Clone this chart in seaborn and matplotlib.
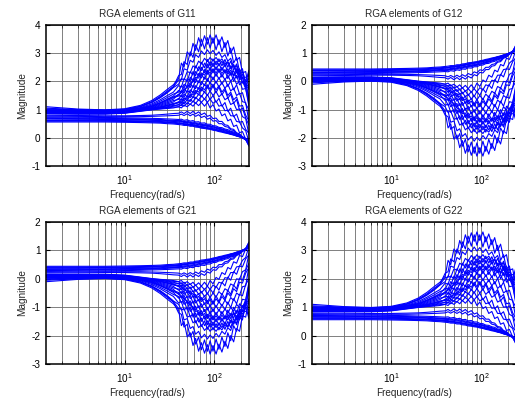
import numpy as np
import pandas as pd
import matplotlib
matplotlib.use("Agg")
import matplotlib.pyplot as plt
from matplotlib.ticker import LogLocator, NullFormatter
import seaborn as sns

# Frequency points (rad/s) at which the RGA element lambda_11 was evaluated
freq = [1.35, 3, 6, 10, 15, 20, 25, 30, 35,
        40, 43, 46, 50, 54, 58, 62, 67, 72, 78, 84, 90, 97, 105, 113,
        122, 132, 142, 153, 165, 178, 192, 207, 225, 245]

# lambda_11 for the operating points whose RGA rises near 100 rad/s
rga11_rising = [
    [1.10, 1.02, 0.99, 1.03, 1.15, 1.32, 1.52, 1.72, 1.88,
     2.10, 2.65, 2.50, 3.05, 2.90, 3.35, 3.10, 3.55, 3.25, 3.62, 3.32, 3.65, 3.35, 3.65, 3.30,
     3.58, 3.20, 3.45, 3.00, 3.22, 2.75, 2.85, 2.30, 2.35, 1.70],
    [1.05, 1.00, 0.98, 1.01, 1.12, 1.28, 1.47, 1.66, 1.82,
     2.20, 2.25, 2.70, 2.60, 3.05, 2.85, 3.30, 3.05, 3.50, 3.15, 3.55, 3.18, 3.55, 3.12, 3.48,
     3.05, 3.38, 2.90, 3.18, 2.65, 2.85, 2.35, 2.45, 1.85, 1.75],
    [1.02, 0.99, 0.98, 1.00, 1.11, 1.26, 1.44, 1.62, 1.80,
     2.05, 2.05, 2.45, 2.40, 2.75, 2.68, 2.95, 2.85, 3.08, 2.95, 3.12, 2.98, 3.10, 2.92, 3.05,
     2.85, 2.95, 2.72, 2.82, 2.50, 2.55, 2.15, 2.15, 1.75, 1.20],
    [1.00, 0.98, 0.97, 1.00, 1.10, 1.25, 1.42, 1.60, 1.78,
     1.90, 2.10, 2.05, 2.35, 2.30, 2.55, 2.48, 2.72, 2.62, 2.82, 2.70, 2.85, 2.72, 2.85, 2.70,
     2.80, 2.62, 2.70, 2.50, 2.58, 2.30, 2.35, 1.95, 1.95, 1.40],
    [0.98, 0.97, 0.96, 0.99, 1.07, 1.20, 1.35, 1.50, 1.62,
     1.85, 1.80, 2.10, 2.00, 2.35, 2.22, 2.55, 2.38, 2.68, 2.48, 2.78, 2.55, 2.80, 2.58, 2.80,
     2.55, 2.78, 2.50, 2.72, 2.40, 2.62, 2.25, 2.35, 2.00, 2.10],
    [0.96, 0.95, 0.95, 0.98, 1.05, 1.16, 1.30, 1.43, 1.55,
     1.62, 1.85, 1.75, 2.10, 2.00, 2.35, 2.20, 2.52, 2.38, 2.65, 2.48, 2.70, 2.52, 2.72, 2.55,
     2.72, 2.52, 2.68, 2.45, 2.60, 2.35, 2.45, 2.10, 2.15, 2.20],
    [0.95, 0.94, 0.94, 0.97, 1.04, 1.12, 1.24, 1.35, 1.45,
     1.52, 1.60, 1.72, 1.78, 1.95, 1.98, 2.15, 2.12, 2.30, 2.22, 2.40, 2.28, 2.45, 2.30, 2.45,
     2.28, 2.42, 2.25, 2.40, 2.18, 2.35, 2.10, 2.25, 2.00, 2.40],
    [0.95, 0.94, 0.94, 0.97, 1.04, 1.13, 1.25, 1.37, 1.48,
     1.68, 1.62, 1.90, 1.80, 2.15, 2.00, 2.35, 2.18, 2.50, 2.30, 2.62, 2.38, 2.66, 2.40, 2.65,
     2.38, 2.62, 2.30, 2.55, 2.20, 2.45, 2.05, 2.15, 1.80, 1.90],
    [0.94, 0.93, 0.93, 0.96, 1.03, 1.11, 1.22, 1.32, 1.42,
     1.48, 1.68, 1.58, 1.88, 1.78, 2.10, 1.96, 2.28, 2.12, 2.42, 2.25, 2.50, 2.30, 2.52, 2.32,
     2.50, 2.30, 2.45, 2.22, 2.38, 2.12, 2.25, 1.95, 2.00, 1.30],
    [0.93, 0.92, 0.92, 0.95, 1.02, 1.09, 1.19, 1.28, 1.37,
     1.55, 1.45, 1.72, 1.62, 1.92, 1.78, 2.10, 1.95, 2.25, 2.08, 2.36, 2.15, 2.42, 2.18, 2.40,
     2.15, 2.38, 2.10, 2.32, 2.00, 2.22, 1.88, 2.00, 1.75, 2.30],
    [0.92, 0.91, 0.91, 0.94, 1.01, 1.07, 1.16, 1.24, 1.32,
     1.36, 1.52, 1.43, 1.68, 1.58, 1.86, 1.74, 2.02, 1.88, 2.16, 2.00, 2.25, 2.05, 2.28, 2.08,
     2.25, 2.05, 2.22, 2.00, 2.15, 1.90, 2.02, 1.72, 1.75, 1.10],
    [0.91, 0.90, 0.90, 0.93, 1.00, 1.05, 1.13, 1.20, 1.27,
     1.40, 1.35, 1.55, 1.45, 1.70, 1.60, 1.85, 1.72, 2.00, 1.85, 2.10, 1.92, 2.16, 1.94, 2.14,
     1.90, 2.10, 1.82, 2.02, 1.70, 1.88, 1.55, 1.60, 1.20, 1.00],
    [0.90, 0.89, 0.89, 0.92, 0.99, 1.04, 1.10, 1.16, 1.22,
     1.25, 1.38, 1.30, 1.50, 1.42, 1.65, 1.55, 1.78, 1.66, 1.90, 1.76, 1.98, 1.80, 2.00, 1.80,
     1.96, 1.75, 1.90, 1.66, 1.76, 1.50, 1.58, 1.28, 1.25, 0.55],
    [0.89, 0.88, 0.88, 0.91, 0.98, 1.03, 1.09, 1.15, 1.20,
     1.24, 1.30, 1.40, 1.40, 1.55, 1.52, 1.68, 1.62, 1.80, 1.70, 1.88, 1.72, 1.90, 1.70, 1.85,
     1.62, 1.76, 1.50, 1.62, 1.35, 1.45, 1.12, 1.15, 0.80, 0.60],
    [0.89, 0.88, 0.88, 0.91, 0.98, 1.03, 1.08, 1.13, 1.18,
     1.28, 1.22, 1.40, 1.32, 1.52, 1.42, 1.64, 1.52, 1.74, 1.60, 1.82, 1.63, 1.84, 1.60, 1.80,
     1.52, 1.70, 1.40, 1.55, 1.22, 1.36, 0.98, 1.05, 0.70, 0.45],
    [0.88, 0.87, 0.87, 0.90, 0.97, 1.02, 1.06, 1.10, 1.15,
     1.16, 1.27, 1.20, 1.36, 1.29, 1.46, 1.38, 1.55, 1.45, 1.63, 1.50, 1.66, 1.50, 1.64, 1.45,
     1.56, 1.35, 1.42, 1.18, 1.24, 1.00, 1.02, 0.75, 0.68, 0.10],
    [0.87, 0.86, 0.86, 0.89, 0.96, 1.01, 1.05, 1.08, 1.12,
     1.18, 1.14, 1.28, 1.20, 1.36, 1.27, 1.44, 1.33, 1.50, 1.36, 1.54, 1.35, 1.50, 1.26, 1.40,
     1.12, 1.25, 0.94, 1.05, 0.75, 0.84, 0.55, 0.58, 0.30, 0.15],
    [0.86, 0.85, 0.85, 0.88, 0.95, 1.00, 1.03, 1.06, 1.09,
     1.10, 1.18, 1.12, 1.24, 1.18, 1.30, 1.22, 1.35, 1.26, 1.38, 1.26, 1.38, 1.22, 1.30, 1.12,
     1.16, 0.96, 0.98, 0.78, 0.78, 0.58, 0.56, 0.35, 0.25, -0.15],
    [0.85, 0.84, 0.84, 0.87, 0.94, 0.99, 1.02, 1.04, 1.06,
     1.10, 1.06, 1.16, 1.10, 1.20, 1.12, 1.24, 1.14, 1.26, 1.12, 1.26, 1.06, 1.18, 0.95, 1.02,
     0.78, 0.85, 0.60, 0.66, 0.40, 0.45, 0.18, 0.22, -0.05, -0.20],
]

# lambda_11 for the operating points whose RGA falls towards zero
rga11_falling = [
    [0.80, 0.79, 0.78, 0.78, 0.79, 0.80, 0.82, 0.84, 0.86,
     0.87, 0.92, 0.86, 0.94, 0.86, 0.94, 0.85, 0.92, 0.82, 0.88, 0.76, 0.80, 0.68, 0.70, 0.58,
     0.58, 0.46, 0.44, 0.32, 0.30, 0.18, 0.14, 0.04, -0.02, -0.15],
    [0.77, 0.76, 0.75, 0.75, 0.75, 0.76, 0.77, 0.78, 0.79,
     0.80, 0.84, 0.79, 0.85, 0.78, 0.84, 0.76, 0.82, 0.72, 0.77, 0.66, 0.70, 0.59, 0.61, 0.50,
     0.50, 0.40, 0.38, 0.28, 0.26, 0.15, 0.12, 0.02, -0.05, -0.20],
    [0.74, 0.73, 0.72, 0.71, 0.70, 0.69, 0.68, 0.67, 0.66,
     0.65, 0.66, 0.62, 0.64, 0.59, 0.61, 0.56, 0.57, 0.52, 0.53, 0.48, 0.48, 0.43, 0.42, 0.37,
     0.36, 0.31, 0.29, 0.23, 0.21, 0.14, 0.10, 0.02, -0.06, -0.28],
    [0.71, 0.70, 0.69, 0.68, 0.67, 0.66, 0.65, 0.63, 0.62,
     0.61, 0.61, 0.58, 0.59, 0.55, 0.56, 0.52, 0.52, 0.48, 0.48, 0.44, 0.43, 0.39, 0.38, 0.33,
     0.32, 0.27, 0.25, 0.20, 0.18, 0.11, 0.08, 0.00, -0.06, -0.22],
    [0.69, 0.68, 0.67, 0.66, 0.65, 0.64, 0.63, 0.61, 0.60,
     0.60, 0.58, 0.58, 0.55, 0.55, 0.52, 0.52, 0.48, 0.48, 0.44, 0.44, 0.40, 0.39, 0.35, 0.34,
     0.29, 0.28, 0.22, 0.21, 0.14, 0.12, 0.05, 0.02, -0.05, -0.25],
    [0.67, 0.66, 0.65, 0.64, 0.63, 0.62, 0.61, 0.59, 0.58,
     0.57, 0.57, 0.54, 0.54, 0.51, 0.51, 0.48, 0.47, 0.44, 0.43, 0.40, 0.39, 0.35, 0.34, 0.30,
     0.28, 0.24, 0.22, 0.17, 0.15, 0.09, 0.06, -0.01, -0.07, -0.30],
    [0.63, 0.63, 0.62, 0.61, 0.60, 0.59, 0.58, 0.56, 0.55,
     0.53, 0.53, 0.50, 0.50, 0.47, 0.47, 0.44, 0.43, 0.40, 0.39, 0.36, 0.35, 0.32, 0.30, 0.27,
     0.25, 0.21, 0.19, 0.15, 0.13, 0.08, 0.05, -0.01, -0.05, -0.18],
    [0.61, 0.61, 0.60, 0.59, 0.58, 0.57, 0.56, 0.55, 0.53,
     0.52, 0.51, 0.49, 0.48, 0.46, 0.45, 0.43, 0.41, 0.39, 0.37, 0.35, 0.33, 0.31, 0.28, 0.26,
     0.23, 0.20, 0.17, 0.14, 0.10, 0.07, 0.03, 0.00, -0.05, -0.20],
    [0.59, 0.59, 0.59, 0.58, 0.57, 0.56, 0.55, 0.53, 0.52,
     0.50, 0.50, 0.47, 0.47, 0.44, 0.44, 0.41, 0.40, 0.37, 0.36, 0.33, 0.32, 0.29, 0.27, 0.24,
     0.22, 0.19, 0.17, 0.13, 0.11, 0.07, 0.04, 0.00, -0.04, -0.12],
    [0.56, 0.56, 0.56, 0.55, 0.54, 0.53, 0.52, 0.50, 0.49,
     0.47, 0.46, 0.44, 0.44, 0.41, 0.41, 0.38, 0.37, 0.34, 0.33, 0.31, 0.30, 0.27, 0.25, 0.22,
     0.20, 0.17, 0.15, 0.12, 0.10, 0.06, 0.04, 0.00, -0.03, -0.10],
]

titles = ["RGA elements of G11", "RGA elements of G12",
          "RGA elements of G21", "RGA elements of G22"]
y_limits = [(-1, 4), (-3, 2), (-3, 2), (-1, 4)]
y_ticks = [[-1, 0, 1, 2, 3, 4], [-3, -2, -1, 0, 1, 2],
           [-3, -2, -1, 0, 1, 2], [-1, 0, 1, 2, 3, 4]]

# Long-form table of lambda_11; the RGA rows sum to one, so
# lambda_12 = lambda_21 = 1 - lambda_11 and lambda_22 = lambda_11.
rows = []
for k, curve in enumerate(rga11_rising + rga11_falling):
    assert len(curve) == len(freq)
    for f, v in zip(freq, curve):
        rows.append({"curve": k, "freq": f, "lam11": v})
df = pd.DataFrame(rows)
df["lam12"] = 1.0 - df["lam11"]
element_cols = ["lam11", "lam12", "lam12", "lam11"]

sns.set_style("white")
plt.rcParams["font.family"] = ["Liberation Sans", "DejaVu Sans"]
plt.rcParams["mathtext.fontset"] = "custom"
plt.rcParams["mathtext.rm"] = "Liberation Sans"
plt.rcParams["mathtext.it"] = "Liberation Sans"
plt.rcParams["axes.unicode_minus"] = False

W, H = 515, 401
fig = plt.figure(figsize=(W / 100, H / 100), dpi=100)
fig.patch.set_facecolor("white")

# axes boxes in pixels: (left, top, right, bottom)
boxes = [(46, 25, 249, 166), (312, 25, 516, 166),
         (46, 222, 249, 364), (312, 222, 516, 364)]

fs = 7.2
for i, (l, t, r, b) in enumerate(boxes):
    ax = fig.add_axes([l / W, 1 - b / H, (r - l) / W, (b - t) / H])
    ax.set_xscale("log")
    sns.lineplot(data=df, x="freq", y=element_cols[i], units="curve",
                 estimator=None, sort=False, color="#0000ff", lw=0.8,
                 ax=ax, legend=False)
    ax.set_xlim(1.32, 245)
    ax.set_ylim(*y_limits[i])
    ax.set_yticks(y_ticks[i])
    ax.xaxis.set_major_locator(LogLocator(base=10, numticks=10))
    ax.xaxis.set_minor_locator(LogLocator(base=10, subs=np.arange(2, 10), numticks=20))
    ax.xaxis.set_minor_formatter(NullFormatter())
    ax.grid(True, which="both", color="#6a6a6a", ls="-", lw=0.6)
    ax.set_axisbelow(True)
    ax.tick_params(axis="y", which="major", direction="in", length=3,
                   width=0.8, left=True, right=True, labelsize=fs,
                   colors="black", pad=4)
    ax.tick_params(axis="x", which="major", direction="in", length=3,
                   width=0.8, top=True, bottom=True, labelsize=fs,
                   colors="black", pad=5)
    ax.tick_params(axis="x", which="minor", direction="in", length=2,
                   width=0.6, top=True, bottom=True)
    for sp in ax.spines.values():
        sp.set_visible(True)
        sp.set_color("black")
        sp.set_linewidth(1.1)
    ax.set_title(titles[i], fontsize=fs, pad=6)
    ax.set_xlabel("Frequency(rad/s)", fontsize=fs, labelpad=2)
    ax.set_ylabel("Magnitude", fontsize=fs, labelpad=3)

fig.savefig("out.png", dpi=100, facecolor="white")
